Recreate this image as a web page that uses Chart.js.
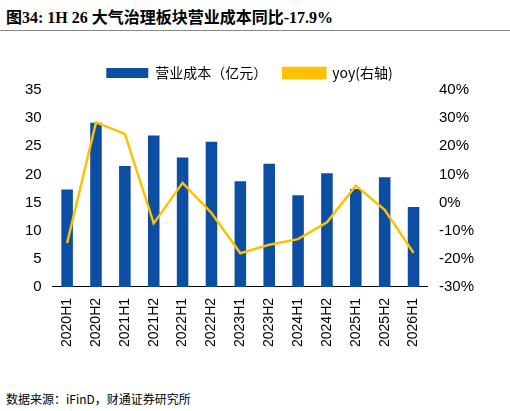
<!DOCTYPE html>
<html><head><meta charset="utf-8">
<script src="https://cdn.jsdelivr.net/npm/chart.js@4"></script>
<style>
body{margin:0;width:510px;height:411px;background:#fff;font-family:"Noto Sans CJK SC","Liberation Serif",serif;}
#title{position:absolute;left:6px;top:4px;font-size:16px;font-weight:bold;color:#000;font-family:"Liberation Serif","Noto Sans CJK SC",serif;}
#line{position:absolute;left:0;top:30px;width:510px;border-top:1px solid #888;}
#wrap{position:absolute;left:22px;top:50px;width:455px;height:300px;}
#src{position:absolute;left:6px;top:390px;font-size:12px;color:#000;}
</style></head><body>
<div id="title">图34: 1H 26 大气治理板块营业成本同比-17.9%</div>
<div id="line"></div>
<div id="wrap"><canvas id="c"></canvas></div>
<div id="src">数据来源：iFinD，财通证券研究所</div>
<script>
const categories = ["2020H1","2020H2","2021H1","2021H2","2022H1","2022H2","2023H1","2023H2","2024H1","2024H2","2025H1","2025H2","2026H1"];
const cost = [17.3,29.2,21.5,26.9,23.0,25.8,18.8,21.9,16.3,20.2,17.4,19.5,14.2];
const yoy = [-14.4,28.5,24.4,-7.4,7.0,-3.7,-18.0,-15.0,-13.0,-7.0,6.0,-2.6,-17.9];

new Chart(document.getElementById("c"), {
  data: {
    labels: categories,
    datasets: [
      { type: "line", label: "yoy(右轴)", data: yoy, yAxisID: "y1", borderColor: "#FFC000", backgroundColor: "#FFC000", borderWidth: 2.5, pointRadius: 0, tension: 0 },
      { type: "bar", label: "营业成本（亿元）", data: cost, yAxisID: "y", backgroundColor: "#0B4EA2", barPercentage: 0.4, categoryPercentage: 1 }
    ]
  },
  options: {
    responsive: true, maintainAspectRatio: false, animation: false,
    plugins: {
      legend: { reverse: true, labels: { color: "#000", font: { size: 14, family: "Noto Sans CJK SC" }, boxWidth: 42, boxHeight: 10, padding: 16 } },
      tooltip: { enabled: false }
    },
    scales: {
      x: { grid: { display: false }, border: { color: "#000" }, ticks: { color: "#000", maxRotation: 90, minRotation: 90, font: { size: 14, family: "Liberation Sans" } } },
      y: { min: 0, max: 35, ticks: { stepSize: 5, color: "#000", font: { size: 15, family: "Liberation Sans" } }, grid: { display: false }, border: { display: false } },
      y1: { position: "right", min: -30, max: 40, ticks: { stepSize: 10, color: "#000", callback: v => v + "%", font: { size: 15, family: "Liberation Sans" } }, grid: { display: false }, border: { display: false } }
    }
  }
});
</script>
</body></html>
